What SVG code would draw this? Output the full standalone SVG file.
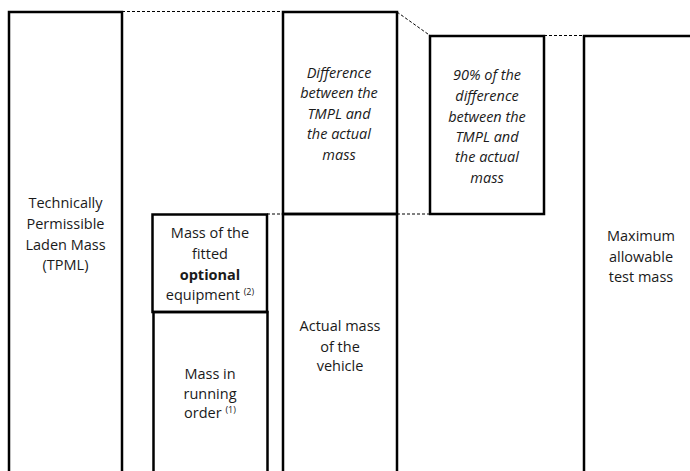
<svg xmlns="http://www.w3.org/2000/svg" width="690" height="471" viewBox="0 0 690 471">
<style>
.box{fill:none;stroke:#000;stroke-width:2.5}
.dash{fill:none;stroke:#000;stroke-width:1;stroke-dasharray:3 2}
text{font-family:"Open Sans","Liberation Sans",sans-serif;font-size:14.5px;fill:#1a1a1a;text-anchor:middle}
.it{font-style:italic}
.sup{font-size:9px}
</style>
<rect width="690" height="471" fill="#fff"/>
<g id="connectors">
<line class="dash" x1="122" y1="11.5" x2="283" y2="11.5"/>
<line class="dash" x1="267" y1="214" x2="283" y2="214"/>
<line class="dash" x1="397" y1="12" x2="430" y2="35.5"/>
<line class="dash" x1="397" y1="214" x2="430" y2="214"/>
<line class="dash" x1="544" y1="35.5" x2="584" y2="35.5"/>
</g>
<g id="tpml">
<path class="box" d="M9,475 V12 H122 V475"/>
<text x="65.5" y="208">Technically</text>
<text x="65.5" y="229">Permissible</text>
<text x="65.5" y="250">Laden Mass</text>
<text x="65.5" y="270">(TPML)</text>
</g>
<g id="optional">
<rect class="box" x="152.5" y="214.5" width="114.5" height="97.5"/>
<text x="210" y="238">Mass of the</text>
<text x="210" y="259">fitted</text>
<text x="210" y="280" font-weight="bold">optional</text>
<text x="210" y="300">equipment <tspan class="sup" dy="-5">(2)</tspan></text>
</g>
<g id="running">
<path class="box" d="M153.5,475 V312 H267.5 V475"/>
<text x="210" y="379">Mass in</text>
<text x="210" y="399">running</text>
<text x="210" y="418">order <tspan class="sup" dy="-5">(1)</tspan></text>
</g>
<g id="difference">
<rect class="box" x="283" y="12" width="114" height="202"/>
<text class="it" x="339" y="78">Difference</text>
<text class="it" x="339" y="98">between the</text>
<text class="it" x="339" y="119">TMPL and</text>
<text class="it" x="339" y="139">the actual</text>
<text class="it" x="339" y="160">mass</text>
</g>
<g id="actual">
<path class="box" d="M283,475 V214 H397 V475"/>
<text x="340" y="331">Actual mass</text>
<text x="340" y="352">of the</text>
<text x="340" y="371">vehicle</text>
</g>
<g id="ninety">
<rect class="box" x="430" y="36" width="114" height="178"/>
<text class="it" x="487" y="80">90% of the</text>
<text class="it" x="487" y="101">difference</text>
<text class="it" x="487" y="122">between the</text>
<text class="it" x="487" y="142">TMPL and</text>
<text class="it" x="487" y="162">the actual</text>
<text class="it" x="487" y="183">mass</text>
</g>
<g id="maximum">
<path class="box" d="M584,475 V36 H695"/>
<text x="641" y="241">Maximum</text>
<text x="641" y="262">allowable</text>
<text x="641" y="282">test mass</text>
</g>
</svg>
